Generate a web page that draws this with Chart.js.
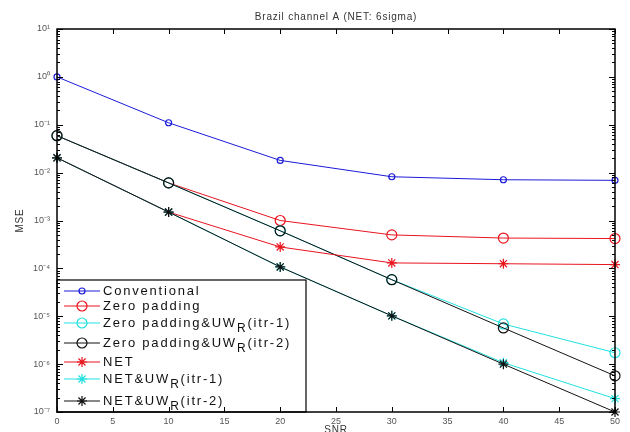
<!DOCTYPE html>
<html>
<head>
<meta charset="utf-8">
<script src="https://cdn.jsdelivr.net/npm/chart.js@4.4.1/dist/chart.umd.min.js"></script>
<style>
  body { margin: 0; background: #fff; }
  #wrap { width: 630px; height: 432px; position: relative; }
</style>
</head>
<body>
<div id="wrap"><canvas id="chart"></canvas></div>
<script>
'use strict'

// x values (SNR)
let snr = [0, 10, 20, 30, 40, 50];

// MSE values
let conventional = [1.0, 0.11, 0.018, 0.0082, 0.0071, 0.0069];
let zeroPadding = [0.059, 0.0061, 1.0e-3, 5.0e-4, 4.3e-4, 4.2e-4];
let zpItr1 = [0.059, 0.0061, 6.1e-4, 5.8e-5, 6.9e-6, 1.73e-6];
let zpItr2 = [0.059, 0.0061, 6.1e-4, 5.8e-5, 5.7e-6, 5.7e-7];
let net = [0.0204, 0.0015, 2.8e-4, 1.3e-4, 1.25e-4, 1.2e-4];
let netItr1 = [0.0204, 0.0015, 1.07e-4, 1.02e-5, 1.07e-6, 1.9e-7];
let netItr2 = [0.0204, 0.0015, 1.07e-4, 1.02e-5, 1.0e-6, 1.0e-7];

// ticks
let xTicks = [0, 5, 10, 15, 20, 25, 30, 35, 40, 45, 50];
let yExps = [-7, -6, -5, -4, -3, -2, -1, 0, 1];

// legend text: [main, subscript, tail]
let legendText = [
  ['Conventional', '', ''],
  ['Zero padding', '', ''],
  ['Zero padding&UW', 'R', '(itr-1)'],
  ['Zero padding&UW', 'R', '(itr-2)'],
  ['NET', '', ''],
  ['NET&UW', 'R', '(itr-1)'],
  ['NET&UW', 'R', '(itr-2)']
];
let legendY = [291, 306, 323, 343, 362, 379, 401];

let titleText = 'Brazil channel A (NET: 6sigma)';

let sup = {'-': '\u207B', '0': '\u2070', '1': '\u00B9', '2': '\u00B2', '3': '\u00B3',
  '4': '\u2074', '5': '\u2075', '6': '\u2076', '7': '\u2077', '8': '\u2078', '9': '\u2079'};
function power(e){
  return '10' + String(e).split('').map(c => sup[c]).join('');
}

function pairs(vals){
  return snr.map((x, i) => ({x: x, y: vals[i]}));
}

let series = [
  {label: 'Conventional', data: conventional, color: '#1a1ad8', style: 'circle', r: 3},
  {label: 'Zero padding', data: zeroPadding, color: '#e8141e', style: 'circle', r: 5},
  {label: 'Zero padding&UWR(itr-1)', data: zpItr1, color: '#22e0e0', style: 'circle', r: 5},
  {label: 'Zero padding&UWR(itr-2)', data: zpItr2, color: '#111111', style: 'circle', r: 5},
  {label: 'NET', data: net, color: '#e8141e', style: 'star', r: 5},
  {label: 'NET&UWR(itr-1)', data: netItr1, color: '#22e0e0', style: 'star', r: 5},
  {label: 'NET&UWR(itr-2)', data: netItr2, color: '#111111', style: 'star', r: 5}
];

let datasets = series.map((s, i) => ({
  label: s.label,
  data: pairs(s.data),
  borderColor: s.color,
  backgroundColor: 'transparent',
  borderWidth: 1,
  pointStyle: s.style,
  pointRadius: s.r,
  pointBorderWidth: 1.2,
  pointBorderColor: s.color,
  pointBackgroundColor: 'transparent',
  tension: 0,
  clip: false,
  order: series.length - i
}));

// frame, inward ticks, titles and legend, matlab style
let decorPlugin = {
  id: 'decor',
  afterDraw(chart){
    let c = chart.ctx;
    let a = chart.chartArea;
    let xs = chart.scales.x;
    let ys = chart.scales.y;
    c.save();

    // legend box
    let lx = a.left, ly = 280, lw = 249, lh = a.bottom - 280;
    c.fillStyle = '#fff';
    c.fillRect(lx, ly, lw, lh);
    c.strokeStyle = '#000';
    c.lineWidth = 1.2;
    c.strokeRect(lx, ly, lw, lh);

    for (let i = 0; i < series.length; i++){
      let s = series[i];
      let y = legendY[i];
      c.strokeStyle = s.color;
      c.lineWidth = 1;
      c.beginPath();
      c.moveTo(lx + 7, y);
      c.lineTo(lx + 43, y);
      c.stroke();
      c.lineWidth = 1.2;
      c.fillStyle = 'rgba(0,0,0,0)';
      Chart.helpers.drawPoint(c, {pointStyle: s.style, radius: s.r, rotation: 0, borderWidth: 1.2}, lx + 25, y);

      let t = legendText[i];
      c.fillStyle = '#111';
      c.textBaseline = 'middle';
      c.textAlign = 'left';
      c.font = '13px "Liberation Sans", Arial, sans-serif';
      c.letterSpacing = '1.8px';
      let tx = lx + 46;
      c.fillText(t[0], tx, y);
      tx += c.measureText(t[0]).width;
      if (t[1]){
        c.font = '12px "Liberation Sans", Arial, sans-serif';
        c.fillText(t[1], tx, y + 6);
        tx += c.measureText(t[1]).width;
        c.font = '13px "Liberation Sans", Arial, sans-serif';
        c.fillText(t[2], tx, y);
      }
    }
    c.letterSpacing = '0px';

    // frame
    c.strokeStyle = '#000';
    c.lineWidth = 1.5;
    c.strokeRect(a.left, a.top, a.right - a.left, a.bottom - a.top);

    // x ticks inward
    c.lineWidth = 1;
    c.beginPath();
    for (let v of xTicks){
      let px = Math.round(xs.getPixelForValue(v)) + 0.5;
      c.moveTo(px, a.bottom); c.lineTo(px, a.bottom - 5);
      c.moveTo(px, a.top); c.lineTo(px, a.top + 5);
    }
    // y ticks inward, major and minor
    for (let e of yExps){
      let py = Math.round(ys.getPixelForValue(Math.pow(10, e))) + 0.5;
      c.moveTo(a.left, py); c.lineTo(a.left + 6, py);
      c.moveTo(a.right, py); c.lineTo(a.right - 6, py);
      if (e < 1){
        for (let m = 2; m <= 9; m++){
          let pm = Math.round(ys.getPixelForValue(m * Math.pow(10, e))) + 0.5;
          c.moveTo(a.left, pm); c.lineTo(a.left + 3, pm);
          c.moveTo(a.right, pm); c.lineTo(a.right - 3, pm);
        }
      }
    }
    c.stroke();

    // title and axis names
    c.fillStyle = '#333';
    c.textAlign = 'center';
    c.textBaseline = 'middle';
    c.font = '10px "Liberation Sans", Arial, sans-serif';
    c.letterSpacing = '0.8px';
    c.fillText(titleText, (a.left + a.right) / 2, 17);
    c.fillText('SNR', (a.left + a.right) / 2, 430);
    c.translate(20, (a.top + a.bottom) / 2);
    c.rotate(-Math.PI / 2);
    c.fillText('MSE', 0, 0);
    c.restore();
  }
};

let ctx = document.getElementById('chart').getContext('2d');

new Chart(ctx, {
  type: 'line',
  data: { datasets: datasets },
  options: {
    responsive: true,
    maintainAspectRatio: false,
    animation: false,
    layout: { padding: { top: 29, right: 15, left: 0, bottom: 0 } },
    plugins: {
      legend: { display: false },
      title: { display: false },
      tooltip: { enabled: false }
    },
    scales: {
      x: {
        type: 'linear',
        min: 0,
        max: 50,
        grid: { display: false, drawTicks: false },
        border: { display: false },
        afterFit(scale){ scale.height = 20; },
        afterBuildTicks(scale){ scale.ticks = xTicks.map(v => ({value: v})); },
        ticks: {
          padding: 4,
          color: '#555',
          font: { size: 9, family: '"Liberation Sans", Arial, sans-serif' },
          maxRotation: 0
        }
      },
      y: {
        type: 'logarithmic',
        min: 1e-7,
        max: 10,
        grid: { display: false, drawTicks: false },
        border: { display: false },
        afterFit(scale){ scale.width = 57; },
        afterBuildTicks(scale){ scale.ticks = yExps.map(e => ({value: Math.pow(10, e)})); },
        ticks: {
          padding: 7,
          color: '#555',
          font: { size: 9, family: '"Liberation Sans", Arial, sans-serif' },
          callback(value){ return power(Math.round(Math.log10(value))); }
        }
      }
    }
  },
  plugins: [decorPlugin]
});
</script>
</body>
</html>
